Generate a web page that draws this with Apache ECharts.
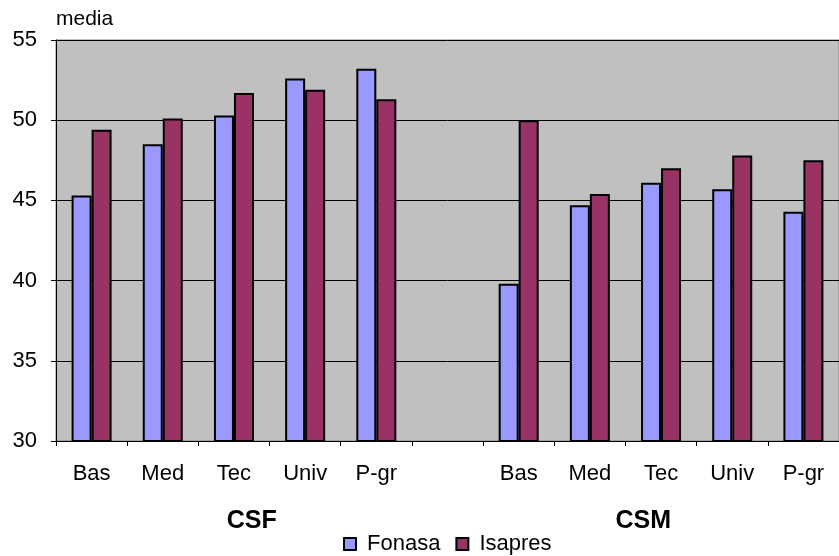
<!DOCTYPE html>
<html>
<head>
<meta charset="utf-8">
<title>media</title>
<script src="https://cdn.jsdelivr.net/npm/echarts@6/dist/echarts.min.js"></script>
<style>
  html, body { margin: 0; padding: 0; background: #fff; }
  #chart { width: 839px; height: 556px; }
</style>
</head>
<body>
<div id="chart"></div>
<script>
// Levels, with one empty slot between the two groups
const categories = ['Bas', 'Med', 'Tec', 'Univ', 'P-gr', '', 'Bas', 'Med', 'Tec', 'Univ', 'P-gr']
const groups = ['CSF', 'CSM']
const fonasa = [45.3, 48.5, 50.3, 52.6, 53.2, null, 39.8, 44.7, 46.1, 45.7, 44.3]
const isapres = [49.4, 50.1, 51.7, 51.9, 51.3, null, 50.0, 45.4, 47.0, 47.8, 47.5]

const FONT = 'Liberation Sans, Arial, sans-serif'

const chart = echarts.init(document.getElementById('chart'))

const option = {
  animation: false,
  textStyle: { fontFamily: FONT, color: '#000' },
  grid: {
    left: 56,
    right: -6,
    top: 40,
    bottom: 115,
    show: true,
    backgroundColor: '#C0C0C0',
    borderColor: '#808080',
    borderWidth: 1
  },
  legend: {
    data: ['Fonasa', 'Isapres'],
    top: 528,
    left: 338,
    icon: 'rect',
    itemWidth: 12,
    itemHeight: 12,
    itemGap: 15,
    itemStyle: { borderColor: '#000', borderWidth: 2 },
    textStyle: { fontFamily: FONT, fontSize: 22, color: '#000', padding: [0, 0, 0, 6] }
  },
  xAxis: [
    {
      type: 'category',
      data: categories,
      axisLine: { lineStyle: { color: '#000', width: 1 } },
      axisTick: { show: true, length: 5, lineStyle: { color: '#000' } },
      axisLabel: { fontFamily: FONT, fontSize: 22, color: '#000', margin: 22, interval: 0 }
    },
    {
      type: 'category',
      data: groups,
      position: 'bottom',
      axisLine: { show: false },
      axisTick: { show: false },
      axisLabel: { fontFamily: FONT, fontSize: 25, fontWeight: 'bold', color: '#000', margin: 68 }
    }
  ],
  yAxis: {
    type: 'value',
    min: 30,
    max: 55,
    interval: 5,
    name: 'media',
    nameLocation: 'end',
    nameGap: 10,
    nameTextStyle: { fontFamily: FONT, fontSize: 21, color: '#000', align: 'left' },
    axisLine: { show: true, lineStyle: { color: '#000', width: 1 } },
    axisTick: { show: true, length: 5, lineStyle: { color: '#000' } },
    axisLabel: { fontFamily: FONT, fontSize: 22, color: '#000', margin: 19 },
    splitLine: { lineStyle: { color: '#000', width: 1 } }
  },
  series: [
    {
      name: 'Fonasa',
      type: 'bar',
      data: fonasa,
      barWidth: 20,
      barGap: '0%',
      itemStyle: { color: '#9999FF', borderColor: '#000', borderWidth: 2 }
    },
    {
      name: 'Isapres',
      type: 'bar',
      data: isapres,
      barWidth: 20,
      barGap: '0%',
      itemStyle: { color: '#993366', borderColor: '#000', borderWidth: 2 }
    }
  ]
}

chart.setOption(option)
</script>
</body>
</html>
